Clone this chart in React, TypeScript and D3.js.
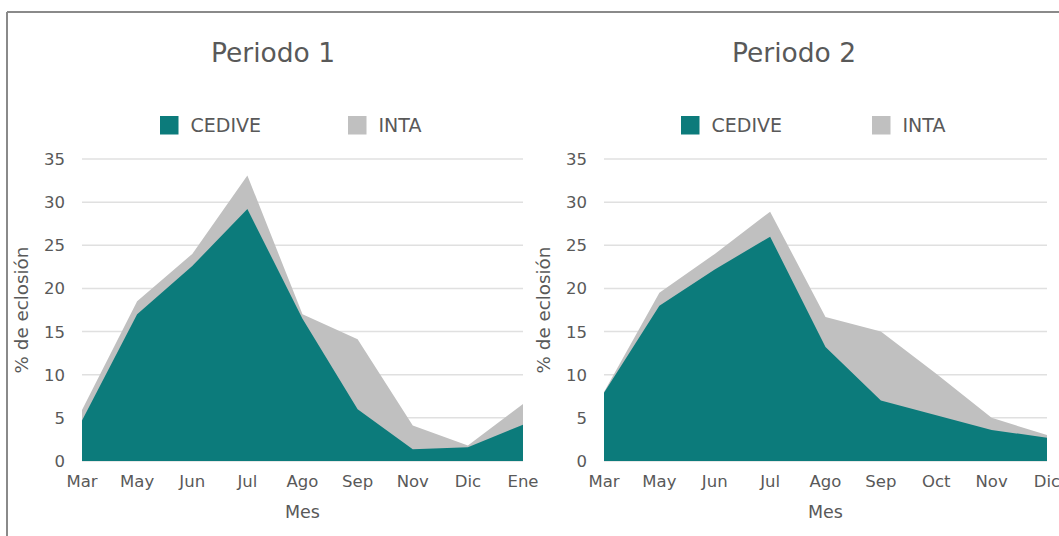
import React from "react";
import * as d3 from "d3";

const months1 = ["Mar", "May", "Jun", "Jul", "Ago", "Sep", "Nov", "Dic", "Ene"];
const cedive1 = [4.7, 17.0, 22.6, 29.2, 16.5, 6.0, 1.35, 1.6, 4.2];
const inta1 = [5.9, 18.5, 24.0, 33.1, 17.0, 14.1, 4.1, 1.8, 6.6];

const months2 = ["Mar", "May", "Jun", "Jul", "Ago", "Sep", "Oct", "Nov", "Dic"];
const cedive2 = [7.9, 18.0, 22.2, 26.0, 13.2, 7.0, 5.3, 3.6, 2.7];
const inta2 = [8.0, 19.5, 24.0, 28.9, 16.7, 15.0, 10.1, 5.0, 3.0];

const yTicks = [0, 5, 10, 15, 20, 25, 30, 35];
const seriesNames = ["CEDIVE", "INTA"];

const TEAL = "#0c7b7b";
const GREY = "#c0c0c0";
const TEXT = "#595959";
const FONT = "'DejaVu Sans', Verdana, sans-serif";

type PanelProps = {
  title: string;
  months: string[];
  cedive: number[];
  inta: number[];
  x0: number;
  x1: number;
  cx: number;
  yAxisX: number;
  tickRight: number;
  legend: { sq1: number; sq2: number };
};

function Panel({ title, months, cedive, inta, x0, x1, cx, yAxisX, tickRight, legend }: PanelProps) {
  const x = d3.scalePoint<string>().domain(months).range([x0, x1]);
  const y = d3.scaleLinear().domain([0, 35]).range([461, 159]);
  const area = (vals: number[]) =>
    d3
      .area<number>()
      .x((_, i) => x(months[i]) as number)
      .y0(y(0))
      .y1((d) => y(d))(vals) as string;
  const midY = (y(0) + y(35)) / 2;
  return (
    <g>
      <text x={cx} y={62} textAnchor="middle" fontSize={26.5} fill={TEXT} fontFamily={FONT}>
        {title}
      </text>
      <rect x={legend.sq1} y={116} width={18.5} height={18.5} fill={TEAL} />
      <text x={legend.sq1 + 30.5} y={132} fontSize={19} fill={TEXT} fontFamily={FONT}>
        {seriesNames[0]}
      </text>
      <rect x={legend.sq2} y={116} width={18.5} height={18.5} fill={GREY} />
      <text x={legend.sq2 + 30.5} y={132} fontSize={19} fill={TEXT} fontFamily={FONT}>
        {seriesNames[1]}
      </text>
      {yTicks.map((t) => (
        <g key={t}>
          <line x1={x0} x2={x1} y1={y(t)} y2={y(t)} stroke="#e0e0e0" strokeWidth={1.5} />
          <text
            x={tickRight}
            y={y(t) + 6}
            textAnchor="end"
            fontSize={16.5}
            fill={TEXT}
            fontFamily={FONT}
          >
            {t}
          </text>
        </g>
      ))}
      <path d={area(inta)} fill={GREY} />
      <path d={area(cedive)} fill={TEAL} />
      {months.map((m) => (
        <text
          key={m}
          x={x(m) as number}
          y={487}
          textAnchor="middle"
          fontSize={16.5}
          fill={TEXT}
          fontFamily={FONT}
        >
          {m}
        </text>
      ))}
      <text
        x={(x0 + x1) / 2}
        y={518}
        textAnchor="middle"
        fontSize={17.5}
        fill={TEXT}
        fontFamily={FONT}
      >
        Mes
      </text>
      <text
        transform={`translate(${yAxisX},${midY}) rotate(-90)`}
        textAnchor="middle"
        fontSize={18.3}
        fill={TEXT}
        fontFamily={FONT}
      >
        % de eclosión
      </text>
    </g>
  );
}

export default function App() {
  return (
    <svg
      width={1059}
      height={536}
      style={{ position: "absolute", left: 0, top: 0, background: "#fff" }}
    >
      <rect x={0} y={0} width={1059} height={536} fill="#fff" />
      <line x1={7} x2={1059} y1={12} y2={12} stroke="#8a8a8a" strokeWidth={2} />
      <line x1={7} x2={7} y1={12} y2={536} stroke="#8a8a8a" strokeWidth={2} />
      <Panel
        title="Periodo 1"
        months={months1}
        cedive={cedive1}
        inta={inta1}
        x0={82}
        x1={523}
        cx={273}
        yAxisX={28}
        tickRight={65}
        legend={{ sq1: 160, sq2: 348 }}
      />
      <Panel
        title="Periodo 2"
        months={months2}
        cedive={cedive2}
        inta={inta2}
        x0={604}
        x1={1047}
        cx={794}
        yAxisX={550}
        tickRight={587}
        legend={{ sq1: 681, sq2: 872 }}
      />
    </svg>
  );
}
